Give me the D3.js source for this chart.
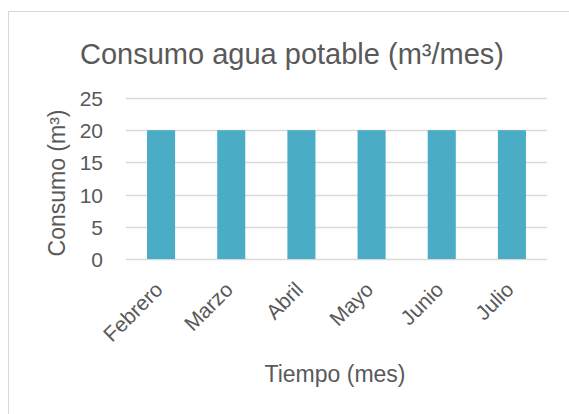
<!DOCTYPE html>
<html>
<head>
<meta charset="utf-8">
<script src="https://cdn.jsdelivr.net/npm/d3@7"></script>
<style>
  body { margin: 0; background: #fff; }
  text { font-family: "Liberation Sans", Arial, sans-serif; fill: #595959; }
</style>
</head>
<body>
<script>
'use strict';

const months = ['Febrero', 'Marzo', 'Abril', 'Mayo', 'Junio', 'Julio'];
const consumo = [20, 20, 20, 20, 20, 20];
const yTicks = [0, 5, 10, 15, 20, 25];

const W = 569;
const H = 414;
const margin = {top: 98, right: 22, bottom: 155, left: 126};
const width = W - margin.left - margin.right;
const height = H - margin.top - margin.bottom;

const svg = d3.select('body').append('svg')
    .attr('width', W)
    .attr('height', H);

// chart frame (only left & top visible in the crop)
svg.append('rect')
    .attr('x', 8.5)
    .attr('y', 11.5)
    .attr('width', W + 10)
    .attr('height', H + 10)
    .attr('fill', 'none')
    .attr('stroke', '#d9d9d9');

svg.append('text')
    .attr('x', 292)
    .attr('y', 64)
    .attr('text-anchor', 'middle')
    .style('font-size', '29px')
    .text('Consumo agua potable (m³/mes)');

const g = svg.append('g')
    .attr('transform', 'translate(' + margin.left + ',' + margin.top + ')');

const xScale = d3.scaleBand()
    .domain(months)
    .range([0, width])
    .paddingInner(0.6)
    .paddingOuter(0.3);

const yScale = d3.scaleLinear()
    .domain([0, 25])
    .range([height, 0]);

// gridlines
g.append('g')
    .selectAll('line')
    .data(yTicks)
    .join('line')
    .attr('x1', 0)
    .attr('x2', width)
    .attr('y1', d => Math.round(yScale(d)) + 0.5)
    .attr('y2', d => Math.round(yScale(d)) + 0.5)
    .attr('stroke', '#d9d9d9')
    .attr('stroke-width', 1.5);

g.selectAll('.bar')
    .data(consumo)
    .join('rect')
    .attr('class', 'bar')
    .attr('x', (d, i) => xScale(months[i]))
    .attr('y', d => yScale(d))
    .attr('width', xScale.bandwidth())
    .attr('height', d => height - yScale(d))
    .attr('fill', '#4bacc6');

const yAxis = g.append('g')
    .call(d3.axisLeft(yScale).tickValues(yTicks).tickSize(0).tickPadding(23));
yAxis.select('.domain').remove();
yAxis.selectAll('text')
    .style('font-size', '21px')
    .style('fill', '#595959')
    .attr('dy', '0.36em');

const xAxis = g.append('g')
    .attr('transform', 'translate(0,' + height + ')')
    .call(d3.axisBottom(xScale).tickSize(0).tickPadding(0));
xAxis.select('.domain').remove();
xAxis.selectAll('text')
    .style('font-size', '21px')
    .style('fill', '#595959')
    .attr('text-anchor', 'end')
    .attr('dy', null)
    .attr('y', 0)
    .attr('transform', 'translate(3,32) rotate(-45)');

svg.append('text')
    .attr('x', 335)
    .attr('y', 382)
    .attr('text-anchor', 'middle')
    .style('font-size', '23px')
    .text('Tiempo (mes)');

svg.append('text')
    .attr('transform', 'translate(65,183) rotate(-90)')
    .attr('text-anchor', 'middle')
    .style('font-size', '23px')
    .text('Consumo (m³)');
</script>
</body>
</html>
